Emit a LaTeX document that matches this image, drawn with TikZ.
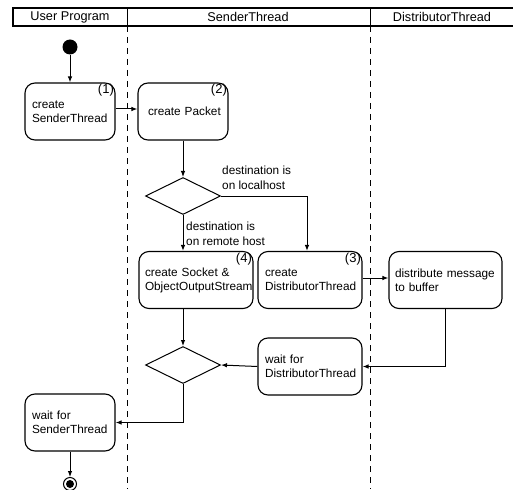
\documentclass[tikz,border=0pt]{standalone}
\usepackage{fontspec}
\setmainfont{Liberation Sans}
\usetikzlibrary{shapes.geometric,arrows.meta}

\begin{document}
\begin{tikzpicture}[x=1pt,y=-1pt,
    act/.style={draw,line width=1.1pt,rounded corners=10pt,minimum height=57pt,
        inner xsep=7pt,align=left,font=\fontsize{11.8}{14}\selectfont},
    num/.style={anchor=north east,inner sep=1.5pt,font=\fontsize{13}{14}\selectfont},
    choice/.style={draw,line width=1pt,diamond,minimum width=75pt,minimum height=37pt,inner sep=0pt},
    guard/.style={anchor=west,align=left,inner sep=1pt,font=\fontsize{11.8}{15.5}\selectfont},
    flow/.style={line width=1pt,-{Latex[length=6pt,width=4.5pt]}},
    lane/.style={line width=1pt,dash pattern=on 6pt off 5pt},
    head/.style={font=\fontsize{12.7}{14}\selectfont}]
\useasboundingbox (0,0) rectangle (513,489);
            % Lanes
\draw[line width=1.5pt] (13,8) rectangle (520,26);
\draw[line width=1pt] (127,8) -- (127,26);
\draw[line width=1pt] (370,8) -- (370,26);
\node[head] (hUser) at (70,17) {User Program};
\node[head] (hSender) at (248,17) {SenderThread};
\node[head] (hDistr) at (442,17) {DistributorThread};
\draw[lane] (127,26) -- (127,489);
\draw[lane] (370,26) -- (370,489);
%Activities
\node[circle,fill,minimum size=15pt,inner sep=0pt] (start) at (70,47) {};
\node[act,text width=76pt] (sender) at (70,111.5) {create\\SenderThread};
\node[num] (n1) at (sender.north east) {(1)};
\node[act,text width=76pt] (packet) at (183,111.5) {\hspace*{3pt}create Packet};
\node[num] (n2) at (packet.north east) {(2)};
\node[choice] (dec1) at (183,196) {};
\node[act,text width=102pt,inner xsep=6pt] (socket) at (196,280) {create Socket \&\\ObjectOutputStream};
\node[num] (n4) at (socket.north east) {(4)};
\node[act,text width=90pt] (distr) at (310,280) {create\\DistributorThread};
\node[num] (n3) at (distr.north east) {(3)};
\node[act,text width=101pt,inner xsep=6pt] (distmsg) at (445.5,280) {distribute message\\to buffer};
\node[act,text width=90pt] (waitdist) at (310,366.5) {wait for\\DistributorThread};
\node[choice] (dec2) at (183,365) {};
\node[act,text width=76pt] (waitsend) at (70,422.5) {wait for\\SenderThread};
\node[circle,draw,line width=1pt,minimum size=13pt,inner sep=0pt] (stop) at (70,484) {};
\node[circle,fill,minimum size=8pt,inner sep=0pt] (stopdot) at (stop) {};
%Guards
\node[guard] (gLocal) at (221,178) {destination is\\on localhost};
\node[guard] (gRemote) at (185,234) {destination is\\on remote host};
%Flows
\draw[flow] (start) -- (sender);
\draw[flow] (sender.east |- 0,109) -- (packet.west |- 0,109);
\draw[flow] (packet) -- (dec1);
\draw[flow] (dec1.east) -| ([xshift=-3pt]distr.north);
\draw[flow] (dec1.south) -- (dec1.south |- socket.north);
\draw[flow] (distr.east |- 0,278) -- (distmsg.west |- 0,278);
\draw[flow] (distmsg.south) |- (waitdist.east);
\draw[flow] (waitdist.west) -- (dec2.east);
\draw[flow] (dec2 |- socket.south) -- (dec2.north);
\draw[flow] (dec2.south) |- (waitsend.east);
\draw[flow] (waitsend) -- (stop);

          \end{tikzpicture}
\end{document}
